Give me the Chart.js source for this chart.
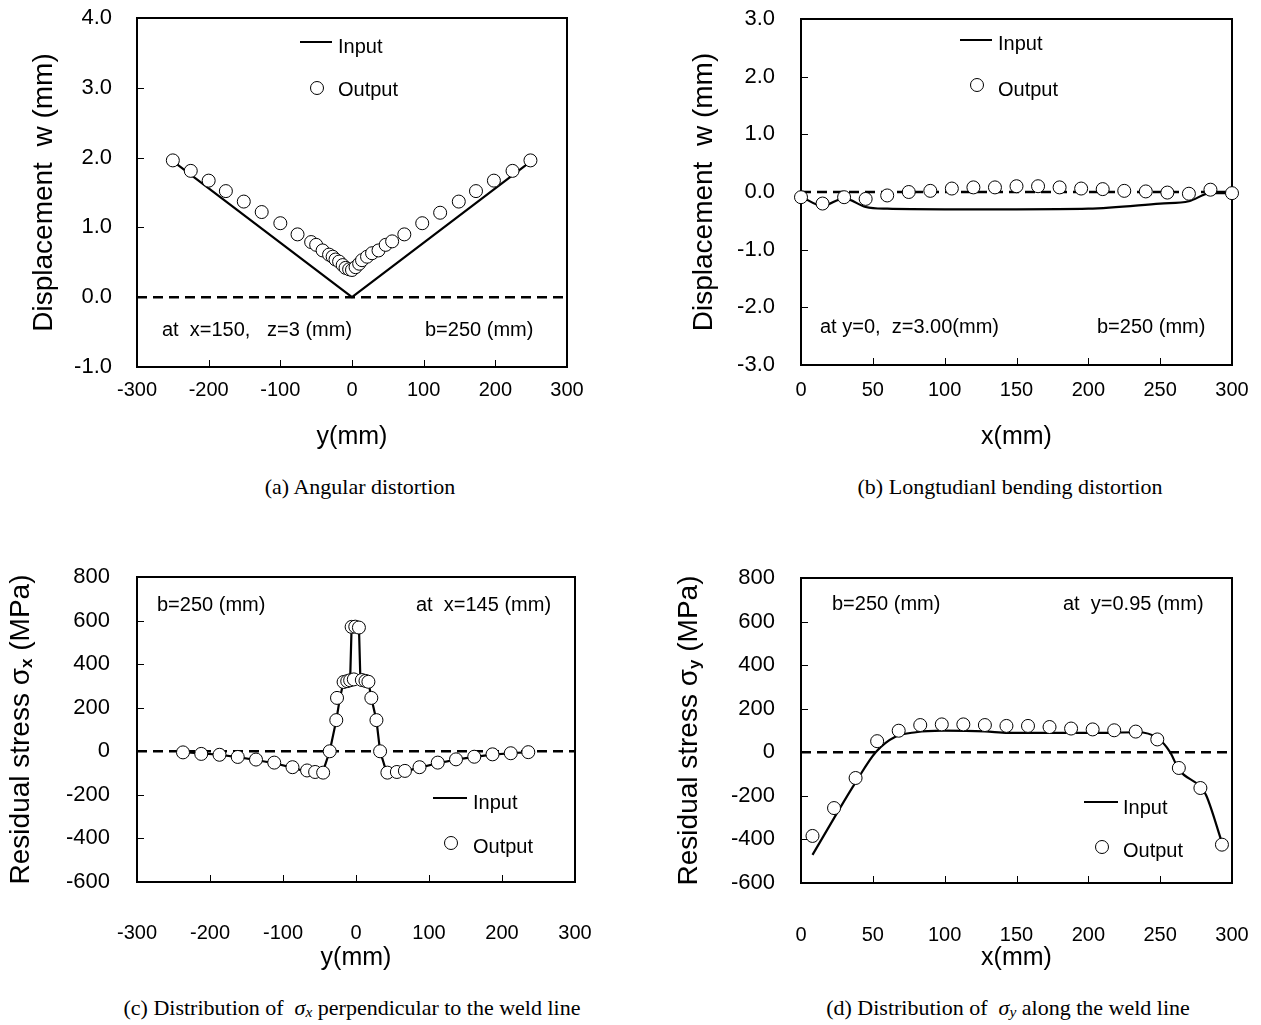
<!DOCTYPE html>
<html lang="en">
<head>
<meta charset="UTF-8">
<title>Welding distortion and residual stress: input vs output</title>
<script src="https://cdn.jsdelivr.net/npm/chart.js"></script>
<style>
  body { margin: 0; background: #fff; }
  #page { position: relative; width: 1261px; height: 1025px; background: #fff; overflow: hidden; }
  canvas { position: absolute; }
  .cap {
    position: absolute; width: 600px; text-align: center;
    font-family: 'Liberation Serif', 'Times New Roman', serif; font-size: 22px; line-height: 26px; color: #000;
  }
  .cap sub { font-size: 0.7em; vertical-align: -0.15em; }
</style>
</head>
<body>
<div id="page">
  <canvas id="chartA" width="630" height="460" style="left:0;top:0"></canvas>
  <canvas id="chartB" width="601" height="460" style="left:660px;top:0"></canvas>
  <canvas id="chartC" width="630" height="420" style="left:0;top:560px"></canvas>
  <canvas id="chartD" width="601" height="420" style="left:660px;top:560px"></canvas>
  <div class="cap" style="left:60px;top:474px">(a) Angular distortion</div>
  <div class="cap" style="left:710px;top:474px">(b) Longtudianl bending distortion</div>
  <div class="cap" style="left:52px;top:995px">(c) Distribution of &nbsp;<i>σ<sub>x</sub></i> perpendicular to the weld line</div>
  <div class="cap" style="left:708px;top:995px">(d) Distribution of &nbsp;<i>σ<sub>y</sub></i> along the weld line</div>
</div>
<script>
// (a) angular distortion, w along y at x=150
const aOutX = [-250, -225, -200, -176, -151, -126, -100, -76, -57, -50, -41, -32, -27, -23, -18, -13, -9, -4, 0,
               5, 10, 14, 21, 28, 37, 47, 56, 73, 98, 123, 149, 173, 198, 224, 249];
const aOutY = [1.96, 1.81, 1.67, 1.52, 1.37, 1.22, 1.06, 0.90, 0.79, 0.75, 0.67, 0.61, 0.58, 0.54, 0.51, 0.46, 0.42, 0.40, 0.39,
               0.43, 0.48, 0.53, 0.58, 0.63, 0.67, 0.75, 0.80, 0.90, 1.06, 1.21, 1.37, 1.52, 1.67, 1.81, 1.96];
const aInX = [-250, 0, 250];
const aInY = [1.95, 0, 1.95];

// (b) longitudinal bending, w along x at y=0
const bOutX = [0, 15, 30, 45, 60, 75, 90, 105, 120, 135, 150, 165, 180, 195, 210, 225, 240, 255, 270, 285, 300];
const bOutY = [-0.09, -0.20, -0.09, -0.12, -0.06, 0.00, 0.02, 0.06, 0.08, 0.08, 0.10, 0.10, 0.08, 0.06, 0.05, 0.02, 0.01, -0.01, -0.03, 0.04, -0.02];
const bInX = [0, 15, 30, 45, 60, 100, 150, 200, 250, 270, 285, 300];
const bInY = [-0.08, -0.24, -0.11, -0.26, -0.29, -0.30, -0.30, -0.29, -0.20, -0.16, -0.02, -0.02];

// (c) sigma x perpendicular to the weld line
const cOutX = [-237, -212, -187, -162, -137, -112, -87, -67, -56, -45, -36, -27, -26, -17, -12, -8, -3, -6, -1, 4,
               8, 13, 17, 21, 28, 33, 43, 56, 67, 87, 112, 137, 162, 187, 212, 236];
const cOutY = [-5, -12, -16, -26, -38, -52, -73, -88, -95, -98, 0, 143, 245, 318, 322, 326, 330, 571, 572, 568,
               327, 323, 319, 245, 143, 0, -98, -95, -90, -73, -52, -37, -25, -14, -9, -4];
const cInX = [-240, -212, -187, -162, -137, -112, -87, -67, -48, -36, -27, -22, -17, -8, -6, 4, 6, 12, 17, 21, 28, 33, 44, 56, 67, 87, 112, 137, 162, 187, 212, 236];
const cInY = [-3, -10, -16, -27, -40, -55, -75, -95, -120, 0, 143, 245, 320, 330, 575, 575, 330, 322, 320, 245, 143, 0, -120, -100, -92, -75, -55, -38, -26, -15, -9, -4];

// (d) sigma y along the weld line
const dOutX = [8, 23, 38, 53, 68, 83, 98, 113, 128, 143, 158, 173, 188, 203, 218, 233, 248, 263, 278, 293];
const dOutY = [-384, -256, -118, 51, 99, 125, 128, 128, 125, 121, 121, 116, 109, 105, 101, 95, 59, -72, -164, -424];
const dInX = [8, 23, 38, 52, 66, 80, 98, 128, 144, 202, 234, 248, 257, 263, 278, 282, 293];
const dInY = [-471, -302, -138, 0, 72, 92, 99, 96, 89, 89, 92, 66, 0, -79, -158, -197, -414];

// tick labels
const wTicksA = [-1, 0, 1, 2, 3, 4];
const wTicksB = [-3, -2, -1, 0, 1, 2, 3];
const sTicks = [-600, -400, -200, 0, 200, 400, 600, 800];
const xTicksSym = [-300, -200, -100, 0, 100, 200, 300];
const xTicksPos = [0, 50, 100, 150, 200, 250, 300];

const SANS = "'Liberation Sans', Arial, Helvetica, sans-serif";
Chart.defaults.font.family = SANS;
Chart.defaults.color = '#000';

const pts = (xs, ys) => xs.map((x, i) => ({ x: x, y: ys[i] }));

// frame box + inward tick marks
const frame = {
  id: 'frame',
  beforeDatasetsDraw(chart) {
    const { ctx, chartArea: a, scales: { x, y } } = chart;
    ctx.save();
    ctx.strokeStyle = '#000';
    ctx.lineWidth = 1;
    ctx.beginPath();
    x.ticks.forEach(t => {
      const px = Math.round(x.getPixelForValue(t.value)) + 0.5;
      if (px < a.left + 3 || px > a.right - 3) return;
      ctx.moveTo(px, a.bottom); ctx.lineTo(px, a.bottom - 7);
    });
    y.ticks.forEach(t => {
      const py = Math.round(y.getPixelForValue(t.value)) + 0.5;
      if (py < a.top + 3 || py > a.bottom - 3) return;
      ctx.moveTo(a.left, py); ctx.lineTo(a.left + 7, py);
    });
    ctx.stroke();
    ctx.lineWidth = 2;
    ctx.strokeRect(a.left, a.top, a.right - a.left, a.bottom - a.top);
    ctx.restore();
  }
};

// notes, legend samples and rotated y title (with optional subscript)
const notes = {
  id: 'notes',
  afterDraw(chart, args, o) {
    const ctx = chart.ctx;
    const a = chart.chartArea;
    ctx.save();
    ctx.fillStyle = '#000';
    ctx.strokeStyle = '#000';
    ctx.textBaseline = 'middle';
    (o.items || []).forEach(it => {
      if (it.line) {
        ctx.lineWidth = 2;
        ctx.beginPath(); ctx.moveTo(it.line[0], it.line[2]); ctx.lineTo(it.line[1], it.line[2]); ctx.stroke();
      } else if (it.circle) {
        ctx.lineWidth = 1;
        ctx.beginPath(); ctx.arc(it.circle[0], it.circle[1], 6.5, 0, Math.PI * 2);
        ctx.fillStyle = '#fff'; ctx.fill(); ctx.stroke(); ctx.fillStyle = '#000';
      } else {
        ctx.font = '20px ' + SANS;
        ctx.textAlign = 'left';
        ctx.fillText(it.text, it.x, it.y);
      }
    });
    if (o.title) {
      const big = '28px ' + SANS, small = 'bold 17px ' + SANS;
      let total = 0;
      o.title.forEach(p => { ctx.font = p.sub ? small : big; total += ctx.measureText(p.t).width; });
      ctx.translate(o.titleX, (a.top + a.bottom) / 2);
      ctx.rotate(-Math.PI / 2);
      ctx.textAlign = 'left';
      let cx = -total / 2;
      o.title.forEach(p => {
        ctx.font = p.sub ? small : big;
        ctx.fillText(p.t, cx, p.sub ? 6 : 0);
        cx += ctx.measureText(p.t).width;
      });
    }
    ctx.restore();
  }
};

// fixed scale box sizes, no automatic label padding in the layout
const noPad = s => { s.paddingTop = 0; s.paddingBottom = 0; s.paddingLeft = 0; s.paddingRight = 0; };

function makeChart(id, cfg) {
  const datasets = [
    { label: 'Output', data: pts(cfg.outX, cfg.outY), showLine: false, pointRadius: 6.5, pointHoverRadius: 6.5,
      pointBackgroundColor: '#fff', pointBorderColor: '#000', pointBorderWidth: 1, order: 0, clip: false },
    { label: 'Input', data: pts(cfg.inX, cfg.inY), showLine: true, borderColor: '#000', borderWidth: 2.2,
      pointRadius: 0, tension: cfg.tension || 0, cubicInterpolationMode: cfg.tension ? 'monotone' : 'default', order: 1, clip: false },
    { label: 'zero', data: pts(cfg.zeroX, [0, 0]), showLine: true, borderColor: '#000', borderWidth: 2.5,
      borderDash: [10, 6], pointRadius: 0, order: 2 }
  ];
  new Chart(document.getElementById(id), {
    type: 'scatter',
    data: { datasets: datasets },
    options: {
      responsive: false,
      animation: false,
      layout: { padding: cfg.pad },
      plugins: {
        legend: { display: false },
        tooltip: { enabled: false },
        notes: { items: cfg.items, title: cfg.ytitle, titleX: cfg.titleX }
      },
      scales: {
        x: {
          type: 'linear', min: cfg.xTicks[0], max: cfg.xTicks[cfg.xTicks.length - 1],
          afterBuildTicks: s => { s.ticks = cfg.xTicks.map(v => ({ value: v })); },
          afterFit: s => { s.height = cfg.xh; noPad(s); },
          grid: { display: false, drawTicks: false },
          border: { display: false },
          ticks: { padding: cfg.xpad, font: { size: 20 }, maxRotation: 0, autoSkip: false },
          title: { display: true, text: cfg.xtitle, font: { size: 25 }, padding: { top: 0, bottom: cfg.xtpad } }
        },
        y: {
          type: 'linear', min: cfg.yTicks[0], max: cfg.yTicks[cfg.yTicks.length - 1],
          afterBuildTicks: s => { s.ticks = cfg.yTicks.map(v => ({ value: v })); },
          afterFit: s => { s.width = cfg.yw; noPad(s); },
          grid: { display: false, drawTicks: false },
          border: { display: false },
          ticks: { padding: cfg.ypad, font: { size: 22 }, callback: cfg.yfmt, autoSkip: false }
        }
      }
    },
    plugins: [frame, notes]
  });
}

const oneDec = v => v.toFixed(1);
const whole = v => String(v);

makeChart('chartA', {
  outX: aOutX, outY: aOutY, inX: aInX, inY: aInY, zeroX: [-300, 300],
  xTicks: xTicksSym, yTicks: wTicksA, yfmt: oneDec,
  pad: { top: 18, right: 63, left: 0, bottom: 0 }, yw: 137, xh: 93, xpad: 11, xtpad: 8, ypad: 25,
  xtitle: 'y(mm)', titleX: 44, ytitle: [{ t: 'Displacement  w (mm)' }],
  items: [
    { line: [300, 332, 42] }, { text: 'Input', x: 338, y: 47 },
    { circle: [317, 88] }, { text: 'Output', x: 338, y: 90 },
    { text: 'at  x=150,   z=3 (mm)', x: 162, y: 330 },
    { text: 'b=250 (mm)', x: 425, y: 330 }
  ]
});

makeChart('chartB', {
  outX: bOutX, outY: bOutY, inX: bInX, inY: bInY, zeroX: [0, 300], tension: 0.4,
  xTicks: xTicksPos, yTicks: wTicksB, yfmt: oneDec,
  pad: { top: 19, right: 29, left: 0, bottom: 0 }, yw: 141, xh: 95, xpad: 13, xtpad: 8, ypad: 26,
  xtitle: 'x(mm)', titleX: 44, ytitle: [{ t: 'Displacement  w (mm)' }],
  items: [
    { line: [300, 332, 40] }, { text: 'Input', x: 338, y: 44 },
    { circle: [317, 85] }, { text: 'Output', x: 338, y: 90 },
    { text: 'at y=0,  z=3.00(mm)', x: 160, y: 327 },
    { text: 'b=250 (mm)', x: 437, y: 327 }
  ]
});

makeChart('chartC', {
  outX: cOutX, outY: cOutY, inX: cInX, inY: cInY, zeroX: [-300, 300],
  xTicks: xTicksSym, yTicks: sTicks, yfmt: whole,
  pad: { top: 17, right: 55, left: 0, bottom: 0 }, yw: 137, xh: 98, xpad: 39, xtpad: 7, ypad: 27,
  xtitle: 'y(mm)', titleX: 21, ytitle: [{ t: 'Residual stress σ' }, { t: 'x', sub: true }, { t: ' (MPa)' }],
  items: [
    { line: [433, 467, 238] }, { text: 'Input', x: 473, y: 243 },
    { circle: [451, 283] }, { text: 'Output', x: 473, y: 287 },
    { text: 'b=250 (mm)', x: 157, y: 45 },
    { text: 'at  x=145 (mm)', x: 416, y: 45 }
  ]
});

makeChart('chartD', {
  outX: dOutX, outY: dOutY, inX: dInX, inY: dInY, zeroX: [0, 300], tension: 0.4,
  xTicks: xTicksPos, yTicks: sTicks, yfmt: whole,
  pad: { top: 18, right: 29, left: 0, bottom: 0 }, yw: 141, xh: 97, xpad: 40, xtpad: 7, ypad: 26,
  xtitle: 'x(mm)', titleX: 29, ytitle: [{ t: 'Residual stress σ' }, { t: 'y', sub: true }, { t: ' (MPa)' }],
  items: [
    { line: [424, 458, 242] }, { text: 'Input', x: 463, y: 248 },
    { circle: [442, 287] }, { text: 'Output', x: 463, y: 291 },
    { text: 'b=250 (mm)', x: 172, y: 44 },
    { text: 'at  y=0.95 (mm)', x: 403, y: 44 }
  ]
});
</script>
</body>
</html>
